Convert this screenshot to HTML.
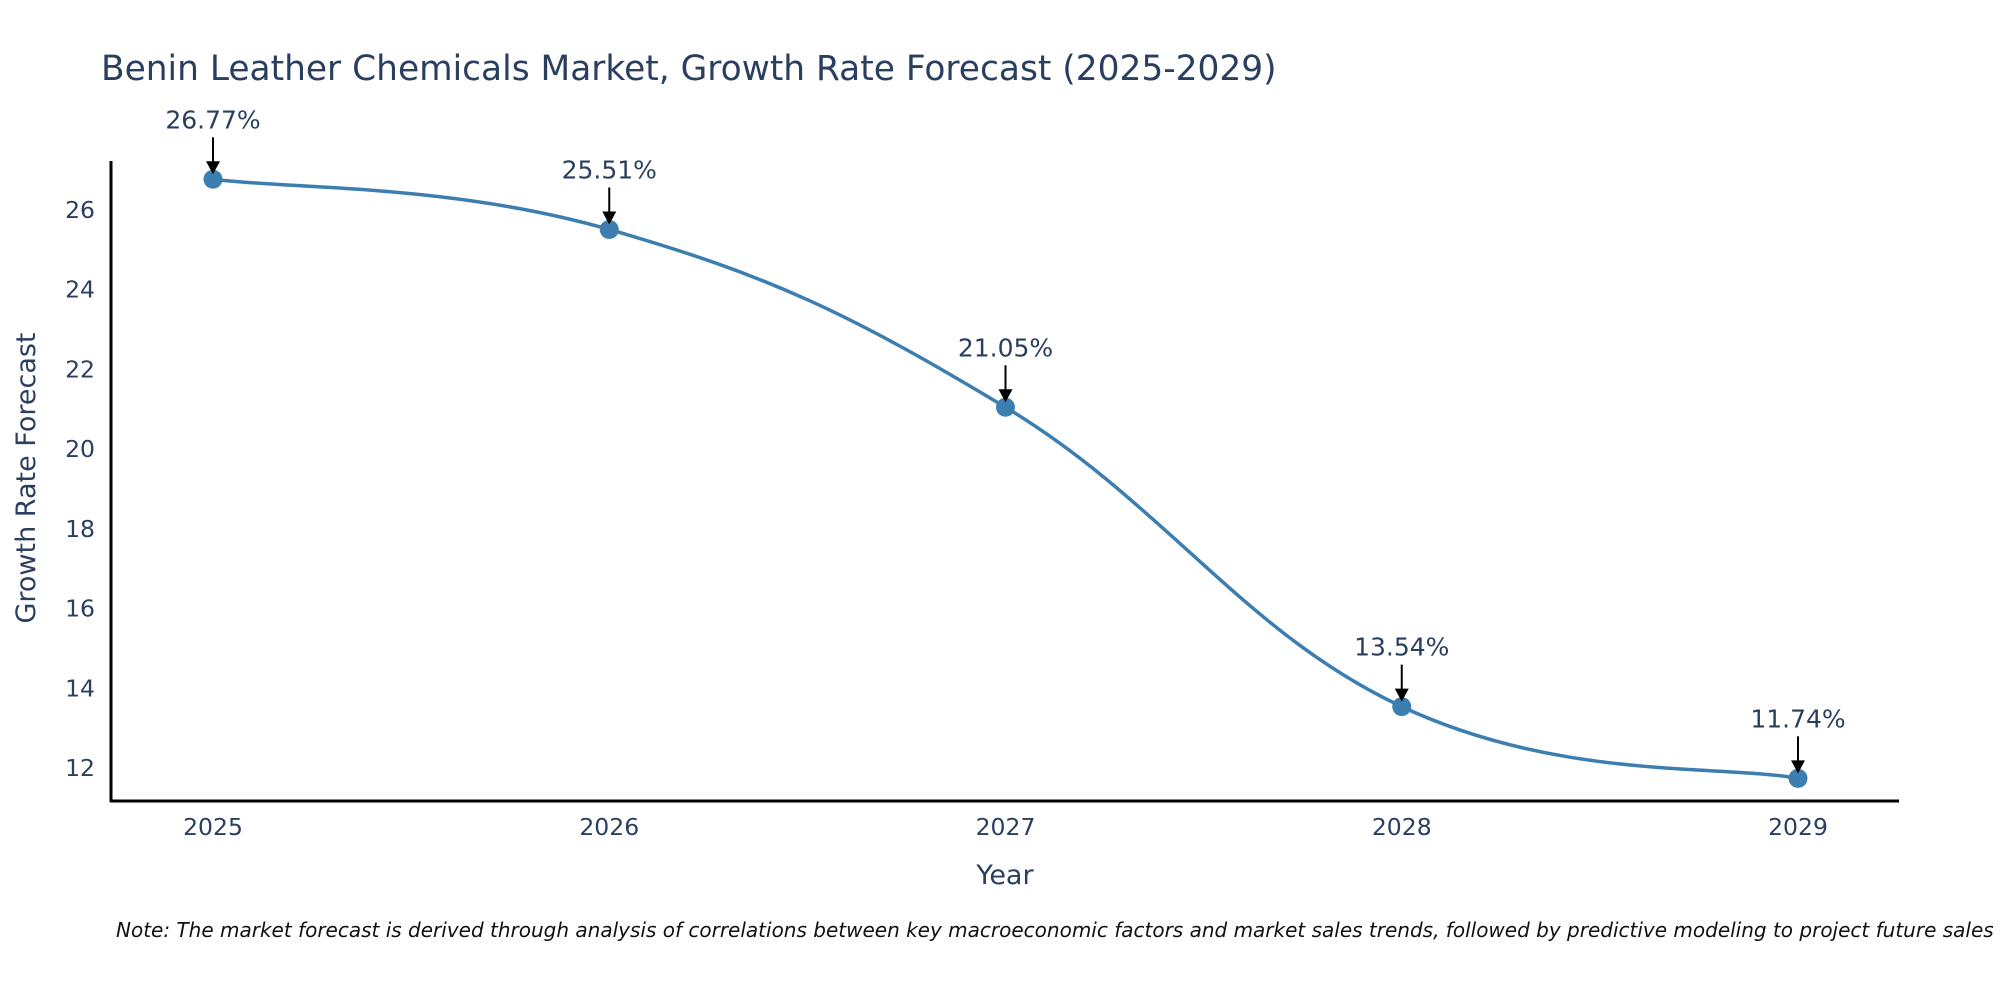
<!DOCTYPE html>
<html><head><meta charset="utf-8"><style>
body{margin:0;background:#fff;}
svg{font-family:"DejaVu Sans","Liberation Sans",sans-serif;}
</style></head><body>
<svg id="chart" width="2000" height="1000" viewBox="0 0 2000 1000">
<text x="101" y="80" font-size="34.4" fill="#2a3f5f">Benin Leather Chemicals Market, Growth Rate Forecast (2025-2029)</text>
<g id="yticks"></g>
<g id="xticks"></g>
<line x1="111" y1="161" x2="111" y2="802" stroke="#000" stroke-width="3"/>
<line x1="110" y1="801" x2="1899" y2="801" stroke="#000" stroke-width="3"/>
<path id="line" fill="none" stroke="#3d7eb0" stroke-width="3.5"/>
<g id="marks"></g>
<text x="1005" y="884" font-size="27" fill="#2a3f5f" text-anchor="middle">Year</text>
<text transform="translate(35,478) rotate(-90)" font-size="27" fill="#2a3f5f" text-anchor="middle">Growth Rate Forecast</text>
<text x="116" y="937" font-size="20" font-style="italic" fill="#111">Note: The market forecast is derived through analysis of correlations between key macroeconomic factors and market sales trends, followed by predictive modeling to project future sales</text>
</svg>
<script>
const years=[2025,2026,2027,2028,2029];
const values=[26.77,25.51,21.05,13.54,11.74];
const yTicks=[12,14,16,18,20,22,24,26];
const NS="http://www.w3.org/2000/svg";
function xs(i){return 213+(1798-213)*(years[i]-years[0])/(years[years.length-1]-years[0]);}
function ys(v){return 768-(v-12)*39.86;}
function mk(t,a,p){const e=document.createElementNS(NS,t);for(const k in a)e.setAttribute(k,a[k]);if(p)p.appendChild(e);return e;}
const yg=document.getElementById('yticks'),xg=document.getElementById('xticks'),mg=document.getElementById('marks');
yTicks.forEach(v=>{const t=mk('text',{x:95,y:ys(v)+8,'font-size':23.5,fill:'#2a3f5f','text-anchor':'end'},yg);t.textContent=v;

});
years.forEach((y,i)=>{const t=mk('text',{x:xs(i),y:835,'font-size':23.5,fill:'#2a3f5f','text-anchor':'middle'},xg);t.textContent=y;

});
const P=values.map((v,i)=>[xs(i),ys(v)]);
let d='M'+P[0][0]+','+P[0][1];
const s=0.5/3;
for(let i=0;i<P.length-1;i++){
 const p0=P[Math.max(i-1,0)],p1=P[i],p2=P[i+1],p3=P[Math.min(i+2,P.length-1)];
 const c1=[p1[0]+(p2[0]-p0[0])*s*1.2,p1[1]+(p2[1]-p0[1])*s*1.2];
 const c2=[p2[0]-(p3[0]-p1[0])*s*1.2,p2[1]-(p3[1]-p1[1])*s*1.2];
 d+=' C'+c1+' '+c2+' '+p2;
}
document.getElementById('line').setAttribute('d',d);
P.forEach((p,i)=>{
 const c=mk('circle',{cx:p[0],cy:p[1],r:9.5,fill:'#3d7eb0'},mg);
 
 
 const l=mk('line',{x1:p[0],y1:p[1]-42,x2:p[0],y2:p[1]-16,stroke:'#000','stroke-width':2},mg);
 
 
 const h=mk('polygon',{points:(p[0]-7)+','+(p[1]-18)+' '+(p[0]+7)+','+(p[1]-18)+' '+p[0]+','+(p[1]-5)},mg);
 
 
 const t=mk('text',{x:p[0],y:p[1]-51,'font-size':25,fill:'#2a3f5f','text-anchor':'middle'},mg);
 t.textContent=values[i].toFixed(2)+'%';
 
 
});
</script>
</body></html>
